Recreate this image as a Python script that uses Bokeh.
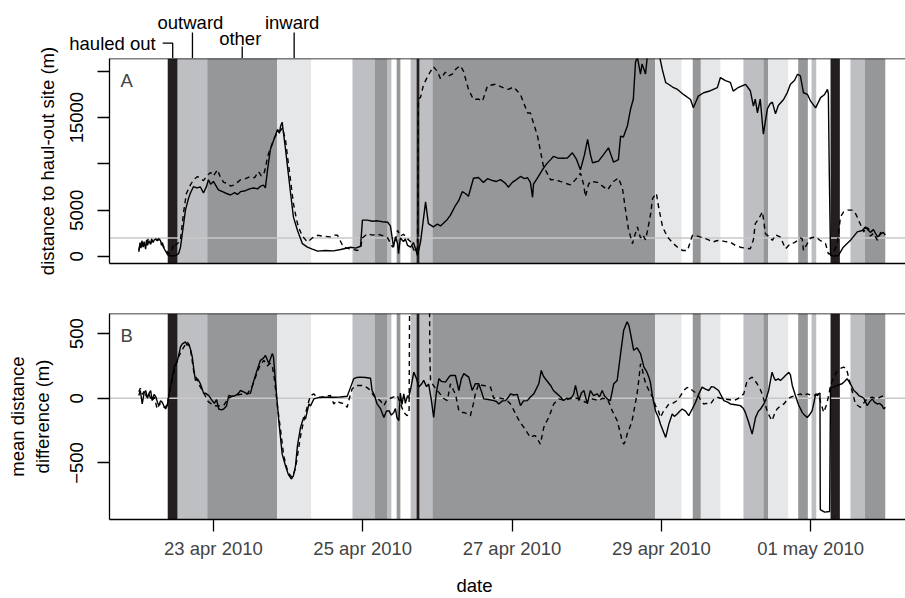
import math
from bokeh.plotting import figure
from bokeh.layouts import column, row
from bokeh.models import Range1d, FixedTicker, Span, Label
from bokeh.core.properties import value
from bokeh.embed import file_html
from bokeh.resources import INLINE

FONT = "Liberation Sans"
FS = "18.5px"

# ---------------- data (time in hours since 22 apr 2010 00:00) ----------------
band_start = [9.3, 12.5, 22.0, 44.5, 68.7, 75.8, 80.0, 82.9, 87.4, 89.3, 90.3, 94.4,
              166.0, 178.1, 180.7, 194.4, 200.8, 202.3, 212.0, 216.3, 222.4, 228.8, 233.4]
band_end = [12.5, 22.0, 44.5, 55.4, 75.8, 80.0, 81.2, 84.1, 89.3, 90.3, 94.4, 166.0,
            174.5, 180.7, 187.0, 200.8, 202.3, 208.8, 215.1, 217.8, 225.4, 233.4, 240.0]
band_state = ["hauled out", "outward", "other", "inward", "outward", "other", "outward", "other",
              "outward", "hauled out", "outward", "other", "inward", "other", "inward", "outward",
              "other", "inward", "other", "outward", "hauled out", "outward", "other"]
state_names = ["hauled out", "outward", "other", "inward"]
state_colors = ["#231f20", "#bebfc3", "#969799", "#e6e7e9"]

a_solid_t = [0.0, 0.4, 0.7, 1.0, 1.4, 1.7, 2.2, 2.5, 2.8, 3.3, 3.8, 4.1, 4.6, 5.0, 5.5, 6.0, 6.5, 7.0, 7.3, 7.6,
             7.9, 8.4, 8.9, 9.5, 10.5, 11.8, 12.8, 13.4, 14.0, 15.0, 16.0, 16.6, 17.6, 18.6, 19.8, 20.8, 21.8,
             22.4, 23.1, 24.0, 24.7, 25.6, 26.9, 28.2, 29.5, 30.8, 31.7, 32.7, 34.3, 35.6, 36.9, 38.2, 39.2,
             40.1, 40.7, 41.4, 42.3, 43.3, 44.6, 45.2, 45.6, 46.1, 46.5, 47.2, 47.8, 48.8, 49.7, 51.0, 52.6,
             54.2, 55.8, 57.5, 60.0, 62.6, 64.9, 68.1, 69.7, 71.3, 71.9, 73.5, 75.1, 76.7, 78.4, 80.0, 80.9,
             81.9, 82.5, 83.2, 83.5, 84.1, 85.1, 85.7, 86.4, 87.4, 88.3, 89.0, 89.6, 90.6, 92.2, 93.1, 94.7,
             96.0, 97.0, 99.2, 100.2, 101.8, 102.8, 104.0, 105.0, 106.0, 107.6, 109.2, 110.8, 112.1, 113.7,
             115.0, 116.3, 117.9, 118.8, 120.1, 121.4, 122.7, 124.0, 125.0, 125.9, 126.6, 126.9, 128.2,
             129.8, 131.1, 132.4, 133.3, 134.6, 136.2, 137.8, 139.4, 140.7, 142.0, 143.3, 144.3, 145.2,
             145.9, 146.8, 147.8, 149.4, 151.0, 152.0, 152.6, 153.3, 154.2, 154.9, 155.8, 157.1, 158.1,
             159.0, 159.7, 160.3, 161.3, 161.8, 162.9, 163.5, 164.5, 166.4, 167.5, 168.3, 169.4, 170.3,
             171.6, 173.2, 175.1, 177.4, 178.3, 179.9, 181.6, 183.8, 186.0, 187.0, 188.6, 190.2, 191.1,
             192.5, 193.8, 195.1, 196.6, 197.6, 198.2, 198.9, 199.8, 200.8, 201.4, 202.1, 203.0, 203.7,
             204.7, 205.6, 207.3, 208.5, 209.5, 210.8, 211.8, 212.7, 213.7, 215.0, 216.0, 217.6, 219.2,
             220.5, 221.4, 221.7, 222.0, 222.4, 223.6, 224.9, 226.5, 228.8, 231.0, 232.6, 233.6, 235.2,
             236.2, 237.5, 238.5, 239.4, 240.0]
a_solid_v = [500, 1500, 900, 1700, 1000, 1600, 800, 1800, 1200, 1700, 1300, 1900, 1500, 1800, 1900, 1700, 1850,
             1700, 1200, 1500, 1000, 700, 400, 100, 50, 100, 300, 1000, 2500, 5000, 6300, 6860, 7550, 7400,
             7500, 6860, 7600, 8280, 7800, 8100, 7700, 7200, 7000, 6800, 6640, 6900, 6700, 7000, 7100, 7300,
             7400, 7300, 7600, 7700, 7400, 9370, 11550, 12500, 13720, 13300, 14090, 14500, 13360, 11500,
             9730, 6830, 4280, 2830, 1380, 1010, 800, 580, 650, 600, 750, 1000, 900, 1100, 3920, 3920, 3800,
             3850, 3750, 3700, 3300, 1000, 2100, 1400, 300, 2000, 1600, 1900, 1200, 1000, 1500, 800, 100,
             1600, 5900, 3550, 3200, 3500, 3300, 4000, 4460, 5500, 6000, 7000, 6800, 6500, 8450, 8530, 8000,
             8400, 8200, 8100, 8300, 7900, 7480, 8000, 8300, 8640, 8400, 8500, 8000, 6390, 7800, 8500, 9370,
             10000, 10460, 10800, 10640, 10600, 10640, 11190, 10500, 9370, 11000, 12640, 11000, 10100,
             10200, 10300, 11000, 11730, 10800, 10200, 10300, 10460, 13000, 12900, 14120, 15900, 17000,
             21000, 21500, 19700, 20800, 19700, 21600, 23500, 23500, 21500, 20200, 18770, 18600, 18300,
             18040, 17500, 16950, 16050, 17320, 17680, 17900, 18230, 19320, 19000, 18800, 17860, 18200,
             18400, 18590, 17900, 16230, 17000, 15500, 17000, 13200, 14500, 15950, 16500, 16670, 15400,
             16300, 16950, 17700, 18600, 19000, 19680, 19500, 17680, 17500, 16770, 16050, 17150, 17500,
             18040, 17600, 9000, 100, 50, 100, 1000, 1740, 2650, 2800, 3190, 2600, 2900, 2100, 2430, 2600,
             2300]

a_dash_t = [0.0, 0.5, 1.2, 1.8, 2.5, 3.1, 3.8, 4.4, 5.4, 6.3, 7.0, 7.6, 8.3, 8.9, 9.5, 10.5, 11.2, 11.8, 12.8,
            13.4, 14.4, 15.3, 16.6, 17.6, 18.9, 19.8, 20.8, 22.1, 23.1, 24.0, 25.3, 26.3, 27.3, 28.5, 29.5,
            30.5, 31.7, 32.7, 34.3, 35.9, 37.2, 38.5, 39.4, 40.1, 40.7, 41.4, 42.7, 43.6, 44.6, 45.6, 46.2,
            47.2, 47.8, 48.8, 49.7, 50.7, 51.3, 52.6, 54.2, 55.8, 57.5, 59.1, 61.6, 62.9, 63.9, 64.9, 65.8,
            68.1, 70.3, 71.3, 71.9, 73.5, 75.1, 76.7, 78.4, 80.0, 81.6, 82.5, 83.2, 84.1, 85.1, 86.4, 87.4,
            88.3, 89.0, 89.6, 89.9, 90.6, 91.5, 92.8, 93.8, 94.7, 96.0, 97.0, 98.6, 99.6, 100.8, 102.1,
            103.4, 104.4, 106.0, 107.6, 109.2, 110.5, 112.1, 114.7, 117.3, 118.8, 120.5, 122.7, 125.0,
            125.9, 128.2, 130.1, 132.4, 133.9, 135.5, 137.2, 138.8, 140.4, 142.0, 143.0, 143.6, 144.6,
            145.2, 147.5, 149.1, 150.7, 152.6, 154.2, 155.5, 156.5, 157.4, 158.7, 159.4, 160.3, 161.3,
            162.0, 162.9, 163.5, 164.5, 165.2, 166.4, 167.1, 168.4, 170.0, 171.9, 173.2, 174.8, 176.4,
            178.0, 179.6, 181.6, 183.2, 184.5, 185.8, 187.0, 188.6, 190.2, 191.8, 193.4, 195.1, 196.6,
            197.6, 198.2, 199.2, 200.5, 201.5, 202.4, 203.7, 204.7, 206.3, 207.9, 209.5, 210.8, 211.8,
            212.7, 213.3, 213.7, 214.6, 216.0, 217.6, 219.2, 220.8, 221.7, 222.7, 223.6, 224.6, 225.6,
            226.6, 227.9, 229.5, 230.5, 231.4, 233.1, 233.6, 234.6, 235.2, 236.2, 237.5, 238.5, 239.4]
a_dash_v = [700, 1400, 1100, 1700, 1500, 1900, 1400, 1800, 1700, 1900, 1800, 1300, 900, 600, 300, 400, 1400,
            1200, 1500, 1800, 4760, 6800, 7730, 8300, 8630, 8400, 8200, 8800, 9070, 8700, 9370, 8500, 8000,
            7900, 7600, 7700, 8000, 8280, 8400, 8630, 8500, 9170, 8700, 8800, 9500, 10800, 12000, 12800,
            13360, 13600, 13900, 12500, 10800, 8200, 5740, 4000, 3190, 2200, 1560, 2000, 2290, 2200, 2120,
            2300, 2290, 1600, 1000, 800, 650, 900, 2000, 2450, 2300, 2400, 2250, 2000, 1000, 1800, 2820,
            2200, 2400, 1900, 1600, 800, 400, 1000, 17000, 17200, 18500, 19400, 20000, 20500, 20000, 19200,
            19900, 19500, 19700, 20300, 20600, 20000, 18040, 16950, 17000, 16770, 18420, 18600, 18200,
            18040, 18300, 17500, 15500, 15500, 13000, 9730, 8280, 8300, 8100, 7900, 7730, 8300, 9000, 7800,
            6460, 7800, 8100, 8000, 7600, 7190, 8100, 8470, 7360, 5000, 3000, 1380, 2200, 3190, 2000, 2360,
            1800, 2700, 4500, 6280, 6830, 5370, 3190, 2100, 1380, 1000, 650, 650, 2290, 2200, 2000, 1800,
            1560, 1700, 1740, 1600, 1550, 1200, 1000, 900, 830, 1800, 3550, 4000, 4820, 2450, 2200, 1740,
            2350, 2100, 830, 1380, 1500, 1740, 2000, 1900, 650, 1200, 2000, 2100, 1700, 1380, 290, 300, 600,
            1500, 4280, 4820, 5000, 5000, 4600, 3920, 2650, 3200, 3000, 2200, 2500, 1740, 2600, 2430]

b_solid_t = [0.0, 0.5, 1.1, 1.7, 2.2, 2.8, 3.2, 3.8, 4.3, 4.9, 5.4, 6.0, 6.4, 7.0, 7.5, 8.1, 8.6, 9.1, 10.2,
             11.5, 12.3, 12.8, 13.4, 14.0, 15.0, 15.5, 16.1, 16.6, 17.2, 17.7, 18.2, 18.9, 19.8, 20.9, 21.4,
             22.5, 23.6, 24.3, 25.0, 25.7, 26.6, 27.3, 28.2, 28.9, 30.1, 31.1, 32.1, 32.7, 33.7, 34.9, 35.9,
             37.0, 37.8, 38.5, 39.1, 40.1, 40.7, 41.8, 42.9, 43.3, 43.9, 45.0, 46.1, 47.2, 48.1, 49.1, 49.7,
             50.4, 51.0, 52.0, 53.0, 53.6, 54.7, 55.2, 56.3, 57.8, 59.5, 62.7, 64.8, 67.0, 68.1, 69.1, 70.0,
             71.3, 72.9, 74.5, 75.0, 75.8, 76.6, 77.7, 78.8, 79.6, 80.4, 81.2, 82.0, 82.5, 83.0, 83.6, 84.1,
             84.6, 85.2, 85.7, 86.4, 86.8, 87.4, 87.8, 88.4, 89.3, 90.0, 90.9, 91.6, 92.5, 93.2, 94.1, 94.8,
             95.7, 96.5, 97.3, 98.6, 99.6, 100.2, 101.8, 102.9, 103.7, 104.5, 105.4, 106.1, 107.2, 108.2,
             109.3, 110.2, 110.9, 112.4, 114.1, 115.0, 115.7, 116.9, 117.9, 118.9, 119.5, 120.5, 121.7,
             122.7, 123.7, 124.9, 125.9, 127.0, 128.6, 129.4, 130.1, 130.7, 132.4, 133.3, 134.5, 135.6,
             136.6, 137.5, 138.8, 139.8, 140.4, 141.5, 142.3, 143.1, 144.2, 145.2, 146.2, 147.4, 148.1,
             149.0, 149.7, 150.6, 151.6, 152.7, 153.8, 154.9, 155.9, 157.0, 157.6, 158.1, 159.1, 160.2,
             161.3, 162.4, 163.2, 164.0, 164.5, 165.1, 166.1, 167.1, 167.7, 168.7, 169.4, 170.4, 171.5,
             172.2, 173.1, 173.9, 174.7, 175.8, 176.8, 178.0, 179.0, 180.0, 181.1, 182.2, 183.3, 184.1,
             184.9, 186.4, 187.6, 188.1, 189.3, 190.2, 191.8, 193.4, 194.4, 195.0, 196.1, 197.2, 198.3,
             199.2, 199.9, 200.8, 201.5, 202.5, 203.6, 204.2, 204.7, 205.6, 206.3, 207.3, 207.9, 209.0,
             209.5, 210.1, 211.1, 212.1, 213.3, 214.0, 214.9, 215.6, 216.5, 217.1, 217.6, 218.2, 218.6,
             219.0, 219.1, 220.5, 222.1, 222.4, 223.4, 224.6, 226.1, 226.9, 227.7, 228.8, 229.9, 230.8,
             231.5, 232.4, 233.1, 234.2, 234.9, 235.8, 236.5, 237.4, 238.2, 239.0, 239.5, 240.0]
b_solid_v = [21, 60, -44, 40, 60, 0, 34, 60, -18, 30, 15, -30, -57, -20, -30, -60, -83, -60, 100, 250, 280,
             330, 397, 420, 436, 410, 420, 380, 319, 220, 138, 150, 112, 34, 40, 20, -18, -40, -10, -83, -90,
             -83, -60, 21, 15, 21, 40, 60, 50, 34, 40, 138, 200, 250, 293, 310, 332, 268, 345, 320, 138,
             -173, -432, -525, -590, -624, -600, -520, -368, -225, -148, -160, -44, -60, -5, 5, 8, 8, 10, 16,
             86, 151, 160, 163, 160, 155, 60, 20, -44, -80, -148, -100, -96, -130, -109, -80, -150, -173, 40,
             -50, 34, -40, 20, 8, 70, 120, 202, 150, 86, 110, 138, 90, 110, -20, -148, 50, 151, 130, 125,
             160, 176, 176, 60, 150, 190, 175, 163, 60, 112, 112, 50, -5, -10, -18, -25, -44, -20, -18, 10,
             34, 25, 30, -57, -20, -18, 10, 34, 112, 215, 170, 151, 99, 60, 34, 10, -18, 0, -5, 30, 99, -18,
             40, 60, -44, 60, 20, 34, 10, 60, 20, -5, -18, 112, 138, 345, 526, 591, 560, 500, 371, 390, 345,
             241, 210, 163, 120, 21, -96, -150, -199, -260, -303, -200, -122, -140, -122, -100, -83, -100,
             -135, -80, -31, 30, 86, 70, 60, 90, 86, 60, 5, -18, -30, -44, -50, -57, -80, -109, -187, -277,
             -148, -100, -83, -50, -18, 60, 202, 160, 138, 150, 138, 160, 176, 200, 180, 99, 21, -50, -109,
             -130, -148, -130, -96, -30, 34, 20, 34, 40, -860, -880, -875, 86, 86, 100, 112, 130, 151, 112,
             60, 40, 21, 10, 0, -57, -30, -5, -30, -44, -40, -57, -83, -70]

b_dash_t = [0.0, 0.5, 1.2, 1.8, 2.5, 3.1, 3.8, 4.4, 5.0, 5.9, 6.7, 7.3, 7.9, 8.6, 9.2, 10.8, 12.3, 13.4, 14.5,
            15.6, 16.6, 17.7, 18.6, 19.8, 20.8, 22.0, 23.1, 24.1, 25.6, 27.3, 28.8, 30.5, 32.7, 34.9, 36.6,
            38.1, 39.1, 40.2, 41.3, 42.3, 42.9, 43.6, 44.5, 45.6, 46.6, 47.8, 48.8, 49.4, 50.4, 51.3, 52.3,
            53.3, 54.2, 55.2, 56.3, 57.1, 58.4, 60.0, 61.6, 62.7, 63.6, 64.8, 65.8, 67.0, 67.7, 68.6, 69.4,
            70.2, 71.3, 72.3, 73.5, 74.5, 75.5, 76.6, 77.7, 78.8, 79.6, 80.9, 81.9, 83.1, 84.1, 85.2, 86.3,
            86.9, 87.1, 88.0, 90.6, 93.3, 93.6, 93.8, 94.7, 95.9, 97.0, 97.9, 99.2, 100.2, 101.2, 101.8,
            102.9, 103.7, 104.5, 105.6, 106.6, 107.6, 108.2, 109.3, 110.2, 110.9, 112.1, 113.1, 114.1,
            115.6, 117.3, 118.5, 119.5, 120.5, 121.7, 122.7, 123.8, 125.0, 125.9, 126.9, 127.5, 128.5,
            129.1, 130.2, 131.1, 131.8, 132.7, 133.4, 135.0, 137.2, 139.3, 141.5, 143.6, 145.8, 147.9,
            149.1, 150.6, 151.3, 152.2, 152.9, 153.8, 154.4, 154.9, 155.3, 155.9, 156.5, 157.0, 157.8,
            158.6, 159.4, 160.2, 160.8, 161.3, 161.8, 162.4, 162.9, 163.5, 164.5, 165.2, 166.1, 167.1,
            167.7, 168.7, 169.4, 170.4, 171.6, 173.1, 174.2, 175.2, 176.1, 176.8, 178.0, 179.5, 180.6,
            181.6, 182.5, 183.8, 184.8, 186.0, 187.0, 188.1, 189.6, 191.3, 192.8, 194.5, 195.0, 195.6,
            196.3, 197.2, 198.0, 198.8, 199.6, 200.4, 201.2, 202.0, 202.8, 203.6, 204.4, 205.2, 206.3,
            207.4, 208.2, 209.5, 211.1, 212.7, 213.7, 214.9, 216.0, 217.0, 217.9, 218.6, 219.2, 220.2,
            221.1, 221.8, 222.4, 223.4, 224.3, 225.6, 226.6, 227.5, 228.2, 229.3, 230.4, 231.4, 232.0,
            233.0, 233.6, 234.6, 235.8, 236.5, 237.4, 238.5, 239.6]
b_dash_v = [50, 78, 30, 60, 10, 40, 0, -20, 10, -83, -40, -60, -70, -70, -40, 150, 293, 350, 397, 436, 380,
            202, 150, 86, 50, -18, -40, -57, -60, -57, 0, 21, 30, 34, 100, 202, 260, 293, 250, 270, 250, 150,
            -44, -250, -445, -560, -600, -610, -540, -400, -250, -150, -60, 21, 34, 10, 8, 15, 21, -44, -20,
            -35, -40, -70, 0, 73, 90, 99, 99, 99, 80, 60, 20, 0, -20, -57, -20, 0, 10, 21, -40, -109, -135,
            -100, 900, 1500, 1500, 1200, 300, 138, 100, 60, 30, 0, -18, 112, 60, 34, -96, -110, -109, -120,
            -135, -40, 34, 112, 100, 99, 90, 86, 0, 5, -5, -20, -44, -90, -148, -190, -225, -270, -303, -290,
            -290, -330, -355, -225, -180, -148, -90, -44, -5, -18, 8, -5, -31, -5, -18, 0, -5, -40, -96, -130,
            -173, -230, -277, -320, -355, -330, -277, -230, -173, -70, 34, 150, 267, 230, 163, 120, 86, 34,
            10, -57, -100, -148, -100, -80, -44, -40, -18, 20, 60, 80, 86, 60, 34, -10, -44, -40, -44, -10,
            8, 0, -5, -10, -18, 0, 34, 80, 138, 150, 163, 140, 112, 80, 34, -30, -96, -140, -173, -120, -83,
            -60, -44, -20, 8, 21, 34, 20, 34, 25, 21, 30, 34, -30, -109, -50, 21, 100, 163, 200, 230, 241,
            230, 163, 60, -44, -60, -70, -40, -18, 0, 8, 0, -5, 10, 21]

tick_hours = [24, 72, 120, 168, 216]
tick_labels = ["23 apr 2010", "25 apr 2010", "27 apr 2010", "29 apr 2010", "01 may 2010"]
a_ticks = [0, 5000, 10000, 15000, 20000]
a_tick_labels = ["0", "5000", "", "15000", ""]
b_ticks = [-500, 0, 500]
b_tick_labels = ["\u2212500", "0", "500"]
a_ref = 2000
b_ref = 0
a_ylabel = "distance to haul-out site (m)"
b_ylabel = ["mean distance", "difference (m)"]
x_title = "date"

# ---------------- layout constants ----------------
W = 905
H = 598
LBL_W = 62          # strip on the far left holding the rotated axis titles
LEFT = 109          # page x of the left side of the boxes
PLOT_W = W - LBL_W
BL = LEFT - LBL_W
FRAME_W = W - LEFT
X0, X1 = -9.42, 246.5
A_Y0, A_Y1 = -760, 21380
B_Y0, B_Y1 = -937, 655
HEAD_H = 58
A_FH = 205
B_FH = 206
GAP = 50
FOOT_H = 30
B_BOT = H - HEAD_H - A_FH - GAP - B_FH - FOOT_H
DATE_X = 474        # page x of the centre of the x-axis title
hpp = (X1 - X0) / FRAME_W

xr = Range1d(X0, X1)
colmap = dict(zip(state_names, state_colors))
band_colors = [colmap[s] for s in band_state]


def style_panel(p, y_ticks, y_labels):
    p.outline_line_color = None
    p.grid.visible = False
    p.background_fill_color = "white"
    ax = p.yaxis[0]
    ax.ticker = FixedTicker(ticks=y_ticks)
    ax.major_label_overrides = {t: l for t, l in zip(y_ticks, y_labels)}
    ax.major_label_orientation = "vertical"
    ax.major_label_text_font = FONT
    ax.major_label_text_font_size = FS
    ax.major_label_text_color = "black"
    ax.major_label_standoff = 14
    ax.major_tick_out = 12
    ax.major_tick_in = 0
    ax.minor_tick_line_color = None
    ax.axis_line_width = 1.3
    ax.major_tick_line_width = 1.3
    xa = p.xaxis[0]
    xa.axis_line_width = 1.3
    xa.minor_tick_line_color = None


def draw_panel(p, y0, y1, ref, s_t, s_v, d_t, d_v, letter, fh):
    p.quad(left=band_start, right=band_end, bottom=y0, top=y1, fill_color=band_colors,
           line_color=None, level="image")
    p.add_layout(Span(location=ref, dimension="width", line_color="#c9c9c9", line_width=1.6,
                      level="underlay"))
    p.line(d_t, d_v, line_color="black", line_width=1.4, line_dash="5 4")
    p.line(s_t, s_v, line_color="black", line_width=1.4)
    p.add_layout(Span(location=y1, dimension="width", line_color="black", line_width=1.3))
    vpp = (y1 - y0) / fh
    p.add_layout(Label(x=X0 + 11 * hpp, y=y1 - 11 * vpp, text=letter, text_font=FONT,
                       text_font_size=FS, text_baseline="top", text_align="left"))


def blank(w, h, xr_, yr_):
    f = figure(width=w, height=h, x_range=xr_, y_range=yr_, toolbar_location=None,
               output_backend="svg", x_axis_location=None, y_axis_location=None, min_border=0)
    f.outline_line_color = None
    f.grid.visible = False
    return f


# ---------------- left strip with axis titles ----------------
lab = blank(LBL_W, H, Range1d(0, LBL_W), Range1d(H, 0))
a_mid = HEAD_H + A_FH / 2
b_mid = HEAD_H + A_FH + GAP + B_FH / 2
lab.text(x=[47, 17, 42], y=[a_mid, b_mid, b_mid], text=[a_ylabel] + b_ylabel,
         angle=math.pi / 2, text_font=value(FONT), text_font_size=FS,
         text_align="center", text_baseline="middle")

# ---------------- state key above panel A ----------------
head = blank(PLOT_W, HEAD_H, Range1d(X0 - BL * hpp, X1), Range1d(HEAD_H, 0))

centers = {}
for s in state_names:
    i = band_state.index(s)
    centers[s] = (band_start[i] + band_end[i]) / 2

hc = centers["hauled out"]
head.text(x=[hc - 17 * hpp], y=[43], text=["hauled out"], text_font=value(FONT),
          text_font_size=FS, text_align="right", text_baseline="middle")
head.line(x=[hc - 10 * hpp, hc, hc], y=[42.7, 42.7, HEAD_H], line_color="black", line_width=1.3)
for s, ty, t0 in [("outward", 22, 32), ("other", 38, 46), ("inward", 22, 32)]:
    c = centers[s]
    head.text(x=[c - 2 * hpp], y=[ty], text=[s], text_font=value(FONT), text_font_size=FS,
              text_align="center", text_baseline="middle")
    head.line(x=[c, c], y=[t0, HEAD_H], line_color="black", line_width=1.3)

# ---------------- panel A ----------------
pa = figure(width=PLOT_W, height=A_FH + GAP, x_range=xr, y_range=Range1d(A_Y0, A_Y1),
            toolbar_location=None, output_backend="svg", min_border_left=BL,
            min_border_right=0, min_border_top=0, min_border_bottom=GAP)
style_panel(pa, a_ticks, a_tick_labels)
pa.xaxis[0].major_tick_line_color = None
pa.xaxis[0].major_label_text_font_size = "0px"
pa.xaxis[0].ticker = FixedTicker(ticks=[])
draw_panel(pa, A_Y0, A_Y1, a_ref, a_solid_t, a_solid_v, a_dash_t, a_dash_v, "A", A_FH)

# ---------------- panel B ----------------
pb = figure(width=PLOT_W, height=B_FH + B_BOT, x_range=xr, y_range=Range1d(B_Y0, B_Y1),
            toolbar_location=None, output_backend="svg", min_border_left=BL,
            min_border_right=0, min_border_top=0, min_border_bottom=B_BOT)
style_panel(pb, b_ticks, b_tick_labels)
xb = pb.xaxis[0]
xb.ticker = FixedTicker(ticks=tick_hours)
xb.major_label_overrides = {t: l for t, l in zip(tick_hours, tick_labels)}
xb.major_label_text_font = FONT
xb.major_label_text_font_size = FS
xb.major_label_standoff = 6
xb.major_tick_out = 12
xb.major_tick_in = 0
xb.major_tick_line_width = 1.3
draw_panel(pb, B_Y0, B_Y1, b_ref, b_solid_t, b_solid_v, b_dash_t, b_dash_v, "B", B_FH)

# ---------------- x-axis title strip ----------------
foot = blank(PLOT_W, FOOT_H, Range1d(0, PLOT_W), Range1d(FOOT_H, 0))
foot.text(x=[DATE_X - LBL_W], y=[17], text=[x_title], text_font=value(FONT), text_font_size=FS,
          text_align="center", text_baseline="middle")

panels = column(pa, pb, spacing=0)
layout = row(lab, column(head, panels, foot, spacing=0), spacing=0)
open("out.html", "w").write(file_html(layout, INLINE))
